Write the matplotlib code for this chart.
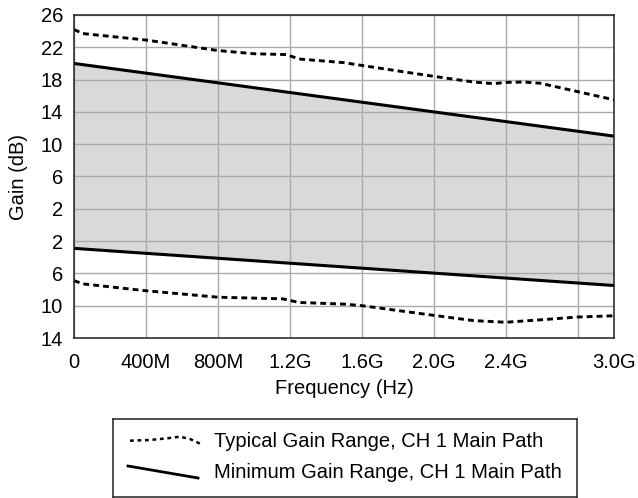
import matplotlib
matplotlib.use('Agg')
import matplotlib.pyplot as plt

plt.rcParams['font.family'] = ['Liberation Sans', 'DejaVu Sans']

# frequency in MHz, gain in dB
typ_hi_f = [0, 50, 400, 800, 1000, 1180, 1250, 1500, 1600, 1850, 2000, 2220, 2330, 2400, 2500, 2590, 2800, 3000]
typ_hi = [24.2, 23.7, 22.9, 21.6, 21.2, 21.1, 20.55, 20.1, 19.75, 18.9, 18.4, 17.7, 17.5, 17.65, 17.7, 17.55, 16.5, 15.5]

typ_lo_f = [0, 50, 400, 800, 1160, 1250, 1500, 1600, 2000, 2220, 2400, 2590, 2800, 3000]
typ_lo = [-6.9, -7.3, -8.15, -8.95, -9.15, -9.6, -9.8, -10.0, -11.2, -11.85, -12.05, -11.75, -11.4, -11.25]

min_f = [0, 3000]
min_hi = [20.0, 11.0]
min_lo = [-2.9, -7.5]

x_ticks = [0, 400, 800, 1200, 1600, 2000, 2400, 2800, 3000]
x_labels = ['0', '400M', '800M', '1.2G', '1.6G', '2.0G', '2.4G', '', '3.0G']
y_ticks = [-14, -10, -6, -2, 2, 6, 10, 14, 18, 22, 26]
y_labels = ['14', '10', '6', '2', '2', '6', '10', '14', '18', '22', '26']

legend_labels = ['Typical Gain Range, CH 1 Main Path', 'Minimum Gain Range, CH 1 Main Path']

W, H = 638, 498
FS = 14.5
fig = plt.figure(figsize=(W / 100, H / 100), dpi=100)
ax = fig.add_axes([74 / W, 1 - 338 / H, (614 - 74) / W, (338 - 15) / H])

dash = (0, (2.0, 1.4))
ax.fill_between(min_f, min_lo, min_hi, color='#d9d9d9', lw=0, zorder=1)
ax.plot(min_f, min_hi, color='black', lw=2.2, zorder=3)
ax.plot(min_f, min_lo, color='black', lw=2.2, zorder=3)
ax.plot(typ_hi_f, typ_hi, color='black', lw=2.1, ls=dash, zorder=3)
ax.plot(typ_lo_f, typ_lo, color='black', lw=2.1, ls=dash, zorder=3)

ax.set_xlim(0, 3000)
ax.set_ylim(-14, 26)
ax.set_xticks(x_ticks)
ax.set_xticklabels(x_labels)
ax.set_yticks(y_ticks)
ax.set_yticklabels(y_labels)
ax.tick_params(length=0, labelsize=FS, colors='black')
ax.tick_params(axis='x', pad=11)
ax.tick_params(axis='y', pad=8)
ax.grid(True, color='#aaaaaa', lw=1.0, zorder=2)
ax.set_axisbelow(False)
for s in ax.spines.values():
    s.set_linewidth(1.1)
    s.set_color('#222222')
    s.set_zorder(4)

ax.set_xlabel('Frequency (Hz)', fontsize=FS, labelpad=5)
ax.set_ylabel('Gain (dB)', fontsize=FS, labelpad=9)

# hand-drawn style legend box below the chart (pixel coordinates)
lax = fig.add_axes([113 / W, 1 - 497 / H, (577 - 113) / W, (497 - 419) / H])
lax.set_xlim(113, 577)
lax.set_ylim(497, 419)
lax.set_xticks([])
lax.set_yticks([])
for s in lax.spines.values():
    s.set_linewidth(1.1)
    s.set_color('#222222')
lax.plot([130, 150, 167, 180, 190, 203], [440.7, 440, 438.3, 436.7, 439, 445],
         color='black', lw=1.8, ls=(0, (1.5, 1.5)))
lax.plot([128, 198], [466, 478], color='black', lw=2.0)
lax.text(214, 441, legend_labels[0], fontsize=FS, va='center', ha='left')
lax.text(214, 472, legend_labels[1], fontsize=FS, va='center', ha='left')

fig.savefig('out.png', dpi=100)
